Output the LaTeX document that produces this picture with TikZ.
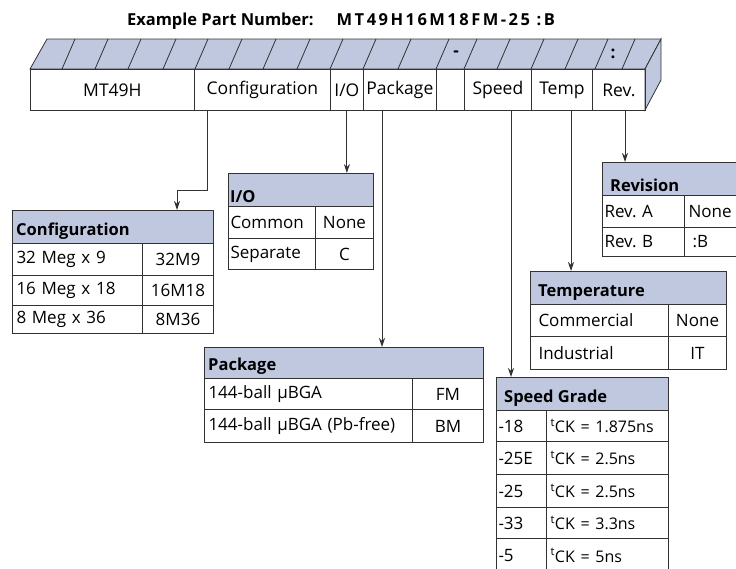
\documentclass[tikz,border=0pt]{standalone}
\usepackage{fontspec}
\setmainfont{Open Sans}
\usetikzlibrary{arrows.meta}
\definecolor{headfill}{RGB}{192,200,224}
\definecolor{linec}{RGB}{50,50,50}
\begin{document}
\begin{tikzpicture}[x=1pt,y=-1pt,
    font=\fontsize{17}{19}\selectfont,
    field/.style={draw=linec, line width=0.8pt, anchor=north west, inner sep=0pt, minimum height=41pt, font=\fontsize{17.5}{19}\selectfont},
    headbox/.style={draw=linec, fill=headfill, line width=1pt, anchor=north west, inner sep=0pt},
    headtext/.style={anchor=south west, inner sep=4pt, font=\fontsize{16.5}{18}\selectfont\bfseries},
    lcell/.style={draw=linec, line width=1pt, anchor=north west, inner xsep=4pt, inner ysep=0pt, align=left},
    ccell/.style={draw=linec, line width=1pt, anchor=north west, inner xsep=2pt, inner ysep=0pt, align=center},
    arr/.style={draw=linec, line width=1pt, -{Stealth[length=9pt,width=6pt]}}]
  \useasboundingbox (0,0) rectangle (736,568);

  % title
  \node (title) at (341,21) {\fontsize{16.5}{18}\selectfont\bfseries Example Part Number:\hspace{1.4em}{\addfontfeature{LetterSpace=15}MT49H16M18FM-25 :B}};

  % top and side of the bar
  \filldraw[fill=headfill, draw=linec, line width=0.8pt] (30,69) -- (47,39) -- (661,39) -- (645,69) -- cycle;
  \filldraw[fill=headfill, draw=linec, line width=0.8pt] (645,69) -- (661,39) -- (661,80) -- (645,110) -- cycle;
  \foreach \xb in {62,95,128,163,195,229,263,297,330,363,398,436,464,497,531,565,595,622}
    \draw[linec, line width=0.8pt] (\xb,69) -- (\xb+13,39);
  \node (dash) at (456,54) {\bfseries -};
  \node (colon) at (613,54) {\bfseries :};

  % fields of the part number
  \node[field, minimum width=164pt] (fmt)  at (30,69)  {MT49H};
  \node[field, minimum width=136pt] (fcfg) at (194,69) {Configuration};
  \node[field, minimum width=33pt]  (fio)  at (330,69) {I/O};
  \node[field, minimum width=73pt]  (fpkg) at (363,69) {Package};
  \node[field, minimum width=28pt]  (fbl)  at (436,69) {};
  \node[field, minimum width=67pt]  (fspd) at (464,69) {Speed};
  \node[field, minimum width=61pt]  (ftmp) at (531,69) {Temp};
  \node[field, minimum width=53pt]  (frev) at (592,69) {Rev.};

  % Configuration
  \node[headbox, minimum width=201pt, minimum height=33pt] (hcfg) at (12,210) {};
  \node[headtext] (hcfgt) at (hcfg.south west) {Configuration};
  \node[lcell, text width=122pt, minimum height=32pt] (cfga1) at (12,243) {32 Meg x 9};
  \node[ccell, text width=67pt, minimum height=32pt]  (cfga2) at (142,243) {32M9};
  \node[lcell, text width=122pt, minimum height=30pt] (cfgb1) at (12,275) {16 Meg x 18};
  \node[ccell, text width=67pt, minimum height=30pt]  (cfgb2) at (142,275) {16M18};
  \node[lcell, text width=122pt, minimum height=28pt] (cfgc1) at (12,305) {8 Meg x 36};
  \node[ccell, text width=67pt, minimum height=28pt]  (cfgc2) at (142,305) {8M36};

  % I/O
  \node[headbox, minimum width=145pt, minimum height=33pt] (hio) at (228,173) {};
  \node[headtext, inner xsep=2pt] (hiot) at (hio.south west) {I/O};
  \node[lcell, inner xsep=2pt, text width=83pt, minimum height=32pt] (ioa1) at (228,206) {Common};
  \node[ccell, text width=54pt, minimum height=32pt] (ioa2) at (315,206) {None};
  \node[lcell, inner xsep=2pt, text width=83pt, minimum height=31pt] (iob1) at (228,238) {Separate};
  \node[ccell, text width=54pt, minimum height=31pt] (iob2) at (315,238) {C};

  % Package
  \node[headbox, minimum width=279pt, minimum height=31pt] (hpkg) at (204,347) {};
  \node[headtext] (hpkgt) at (hpkg.south west) {Package};
  \node[lcell, text width=200pt, minimum height=31pt] (pkga1) at (204,378) {144-ball µBGA};
  \node[ccell, text width=67pt, minimum height=31pt]  (pkga2) at (412,378) {FM};
  \node[lcell, text width=200pt, minimum height=33pt] (pkgb1) at (204,409) {144-ball µBGA (Pb-free)};
  \node[ccell, text width=67pt, minimum height=33pt]  (pkgb2) at (412,409) {BM};

  % Revision
  \node[headbox, minimum width=150pt, minimum height=33pt] (hrev) at (602,162) {};
  \node[headtext, inner xsep=8pt] (hrevt) at (hrev.south west) {Revision};
  \node[lcell, inner xsep=2pt, text width=78pt, minimum height=32pt] (reva1) at (602,195) {Rev.\ A};
  \node[lcell, text width=60pt, minimum height=32pt] (reva2) at (684,195) {None};
  \node[lcell, inner xsep=2pt, text width=78pt, minimum height=29pt] (revb1) at (602,227) {Rev.\ B};
  \node[lcell, inner xsep=8pt, text width=52pt, minimum height=29pt] (revb2) at (684,227) {:B};

  % Temperature
  \node[headbox, minimum width=196pt, minimum height=33pt] (htmp) at (530,271) {};
  \node[headtext, inner xsep=8pt] (htmpt) at (htmp.south west) {Temperature};
  \node[lcell, inner xsep=8pt, text width=122pt, minimum height=32pt] (tmpa1) at (530,304) {Commercial};
  \node[ccell, text width=54pt, minimum height=32pt] (tmpa2) at (668,304) {None};
  \node[lcell, inner xsep=8pt, text width=122pt, minimum height=33pt] (tmpb1) at (530,336) {Industrial};
  \node[ccell, text width=54pt, minimum height=33pt] (tmpb2) at (668,336) {IT};

  % Speed Grade
  \node[headbox, minimum width=172pt, minimum height=33pt] (hspd) at (496,377) {};
  \node[headtext, inner xsep=8pt] (hspdt) at (hspd.south west) {Speed Grade};
  \node[lcell, inner xsep=2pt, text width=46pt, minimum height=31pt] (spda1) at (496,410) {-18};
  \node[lcell, inner xsep=4pt, text width=114pt, minimum height=31pt] (spda2) at (546,410) {\mbox{\fontsize{16}{18}\selectfont\textsuperscript{t}CK = 1.875ns}};
  \node[lcell, inner xsep=2pt, text width=46pt, minimum height=33pt] (spdb1) at (496,441) {-25E};
  \node[lcell, inner xsep=4pt, text width=114pt, minimum height=33pt] (spdb2) at (546,441) {\mbox{\fontsize{16}{18}\selectfont\textsuperscript{t}CK = 2.5ns}};
  \node[lcell, inner xsep=2pt, text width=46pt, minimum height=33pt] (spdc1) at (496,474) {-25};
  \node[lcell, inner xsep=4pt, text width=114pt, minimum height=33pt] (spdc2) at (546,474) {\mbox{\fontsize{16}{18}\selectfont\textsuperscript{t}CK = 2.5ns}};
  \node[lcell, inner xsep=2pt, text width=46pt, minimum height=31pt] (spdd1) at (496,507) {-33};
  \node[lcell, inner xsep=4pt, text width=114pt, minimum height=31pt] (spdd2) at (546,507) {\mbox{\fontsize{16}{18}\selectfont\textsuperscript{t}CK = 3.3ns}};
  \node[lcell, inner xsep=2pt, text width=46pt, minimum height=34pt] (spde1) at (496,538) {-5};
  \node[lcell, inner xsep=4pt, text width=114pt, minimum height=34pt] (spde2) at (546,538) {\mbox{\fontsize{16}{18}\selectfont\textsuperscript{t}CK = 5ns}};

  % connectors
  \draw[arr] ([xshift=13pt]fcfg.south west) -- ++(0,80) -| ([xshift=165pt]hcfg.north west);
  \draw[arr] (fio.south) -- (fio.south |- hio.north);
  \draw[arr] ([xshift=19pt]fpkg.south west) coordinate (p1) -- (p1 |- hpkg.north);
  \draw[arr] ([xshift=47pt]fspd.south west) coordinate (p2) -- (p2 |- hspd.north);
  \draw[arr] ([xshift=40pt]ftmp.south west) coordinate (p3) -- (p3 |- htmp.north);
  \draw[arr] ([xshift=33pt]frev.south west) coordinate (p4) -- (p4 |- hrev.north);
\end{tikzpicture}
\end{document}
